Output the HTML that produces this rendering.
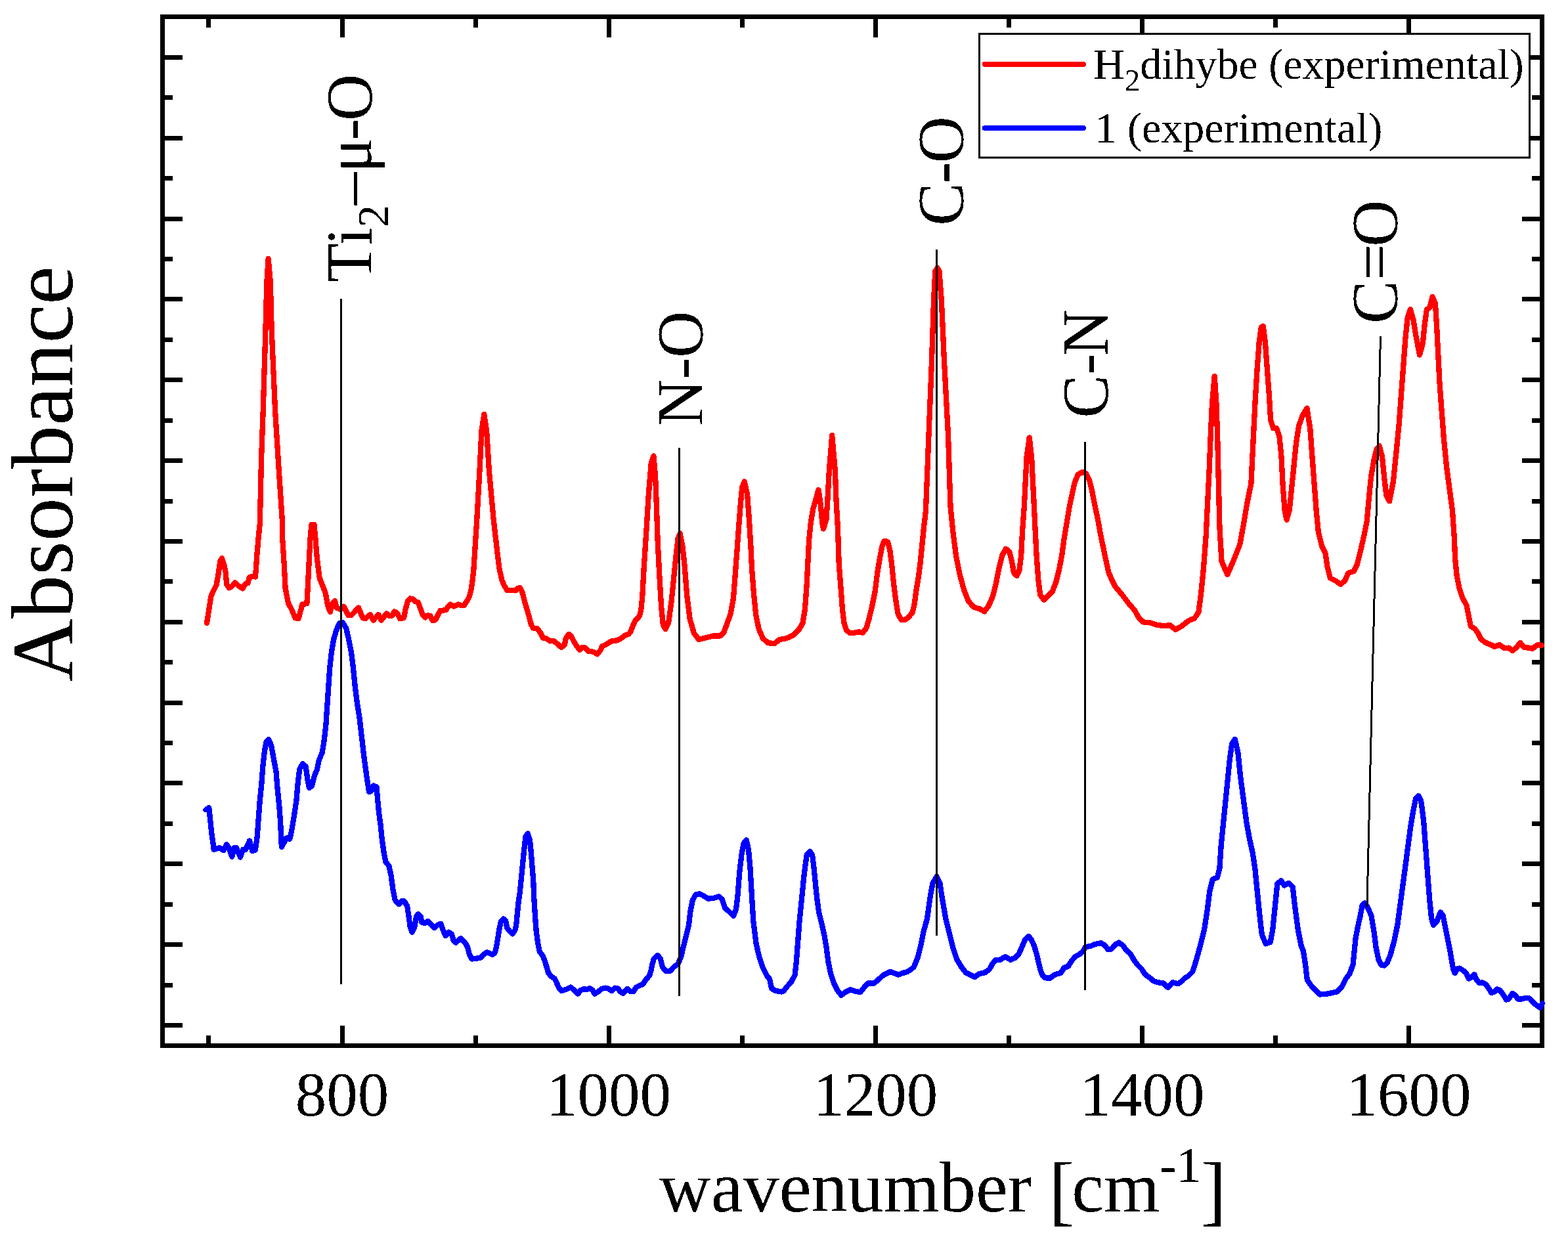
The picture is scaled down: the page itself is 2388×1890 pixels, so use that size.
<!DOCTYPE html>
<html><head><meta charset="utf-8"><title>IR spectra</title>
<style>html,body{margin:0;padding:0;background:#fff;}svg{display:block;}</style>
</head><body>
<svg width="2388" height="1890" viewBox="0 0 2388 1890">
<rect x="0" y="0" width="2388" height="1890" fill="#fff"/>
<defs><filter id="bin" x="0" y="0" width="1" height="1" color-interpolation-filters="sRGB"><feComponentTransfer><feFuncA type="discrete" tableValues="0 1"/></feComponentTransfer></filter></defs>
<path d="M317.9,1592.5 V1576.5 M317.9,25.5 V41.5 M521,1592.5 V1561.5 M521,25.5 V56.5 M724.1,1592.5 V1576.5 M724.1,25.5 V41.5 M927.1,1592.5 V1561.5 M927.1,25.5 V56.5 M1130.2,1592.5 V1576.5 M1130.2,25.5 V41.5 M1333.2,1592.5 V1561.5 M1333.2,25.5 V56.5 M1536.3,1592.5 V1576.5 M1536.3,25.5 V41.5 M1739.4,1592.5 V1561.5 M1739.4,25.5 V56.5 M1942.4,1592.5 V1576.5 M1942.4,25.5 V41.5 M2145.5,1592.5 V1561.5 M2145.5,25.5 V56.5 M247.5,87.5 H278 M2348.5,87.5 H2318 M247.5,148.9 H263 M2348.5,148.9 H2333 M247.5,210.3 H278 M2348.5,210.3 H2318 M247.5,271.7 H263 M2348.5,271.7 H2333 M247.5,333.1 H278 M2348.5,333.1 H2318 M247.5,394.5 H263 M2348.5,394.5 H2333 M247.5,455.9 H278 M2348.5,455.9 H2318 M247.5,517.4 H263 M2348.5,517.4 H2333 M247.5,578.8 H278 M2348.5,578.8 H2318 M247.5,640.2 H263 M2348.5,640.2 H2333 M247.5,701.6 H278 M2348.5,701.6 H2318 M247.5,763 H263 M2348.5,763 H2333 M247.5,824.4 H278 M2348.5,824.4 H2318 M247.5,885.8 H263 M2348.5,885.8 H2333 M247.5,947.3 H278 M2348.5,947.3 H2318 M247.5,1008.7 H263 M2348.5,1008.7 H2333 M247.5,1070.1 H278 M2348.5,1070.1 H2318 M247.5,1131.5 H263 M2348.5,1131.5 H2333 M247.5,1192.9 H278 M2348.5,1192.9 H2318 M247.5,1254.3 H263 M2348.5,1254.3 H2333 M247.5,1315.8 H278 M2348.5,1315.8 H2318 M247.5,1377.2 H263 M2348.5,1377.2 H2333 M247.5,1438.6 H278 M2348.5,1438.6 H2318 M247.5,1500 H263 M2348.5,1500 H2333 M247.5,1561.4 H278 M2348.5,1561.4 H2318" stroke="#000" stroke-width="7" fill="none" shape-rendering="crispEdges"/>
<rect x="247.5" y="25.5" width="2101.0" height="1567.0" fill="none" stroke="#000" stroke-width="7"/>
<path d="M315,949 L319.3,921.7 L321.2,908.8 L324.5,901 L329.6,890.8 L332.8,872.7 L335.4,854.7 L338,850.2 L341.2,859.8 L343.8,872.7 L345.1,889.5 L348.9,895.3 L352.8,893.3 L358,887.5 L363.1,892 L369.5,896.5 L373.4,889.5 L377.3,888.2 L379.8,879.2 L385,877.9 L388.9,878.5 L390.1,863.7 L391.4,844.4 L394,814.8 L395.8,797.7 L398,700 L400.7,625.7 L404.4,502.9 L406.4,429 L408.6,394 L411.8,429 L413.7,502.9 L419.1,625.7 L425,720 L430.2,797.7 L430.1,818.6 L432.6,857.3 L434.6,895.9 L439.1,919.1 L444.2,928.1 L449.4,941 L454.5,942.3 L458.4,928.1 L460.3,920.4 L467.4,919.1 L468.7,895.9 L470.6,857.3 L472.6,818.6 L474.5,798.7 L478.4,798.7 L480.3,818.6 L482.9,850.8 L486.7,880.5 L491.9,893.3 L495.8,903.6 L499,921.7 L502.8,932 L506,919.1 L509.9,915.2 L512.5,925.5 L518.9,928.1 L523.4,923.6 L530.5,937.1 L535.7,936.5 L546,925.5 L552.4,941 L556,942.2 L563.9,936.1 L568.7,944.6 L576.5,936.1 L580.7,944.6 L588.6,934.3 L592.8,938 L597.6,937.3 L600.6,931.3 L605.4,934.3 L609,942.2 L615.1,941 L617.5,928.3 L621.1,915.1 L624.7,911.4 L629.5,912.7 L633.1,916.3 L636.7,917.5 L640.4,927.1 L644,936.7 L647.6,940.4 L651.2,937.3 L655.4,938 L659,945.2 L663.3,944 L666.9,936.7 L670.5,930.1 L675.3,929.5 L679.5,928.9 L682.5,923.5 L686.1,920.5 L691,923.5 L698.2,920.5 L703,922.3 L706.6,922.3 L711.4,915.1 L715.1,907.8 L717.5,898.2 L719.3,886.1 L721.3,868.9 L726.2,792.7 L730.5,716.6 L733.5,655.7 L737.3,631 L741.1,655.7 L744.9,716.6 L751.8,792.7 L758.4,850 L760.8,868.1 L764.5,883.7 L768.1,892.2 L772.3,898.8 L776.5,898.8 L781.3,898.8 L784.9,899.4 L788.6,895.8 L792.2,895.2 L795.8,903 L799.4,917.5 L803,929.6 L806,939.6 L809,951.5 L812,956.5 L817.9,957 L822.9,963.4 L826.9,971.4 L831.9,972.4 L837.8,976.4 L842.8,975.9 L848.8,980.4 L854.8,985.8 L859.7,982.4 L861.7,972.4 L866.2,965.9 L869.7,968.4 L873.7,976.4 L878.6,984.3 L882.6,989.8 L886.6,986.3 L890.6,986.3 L896.6,992.3 L901.5,992.3 L905.5,993.8 L909.5,996.3 L914.5,990.3 L917,984.3 L921.5,982.4 L926.4,979.4 L931.4,976.4 L937.4,975.9 L943.4,973.9 L948.3,970.4 L952.3,967.4 L957.3,965.9 L960.3,962.4 L963.3,954.5 L967.2,945.5 L971.2,941.5 L974.2,937 L976.2,929.6 L978.2,910 L980.9,861.4 L984.5,807 L987.2,761.6 L990,725.4 L991.8,705 L995.4,694.5 L998.1,725.4 L999.9,770.7 L1001.7,825.1 L1004.5,879.5 L1007.2,924.9 L1009.9,952 L1013.5,958 L1018.1,948.5 L1022.6,915.8 L1026.2,879.5 L1029.9,843.3 L1032.6,820 L1035.7,812.4 L1039.8,834.2 L1042.6,861.4 L1046.2,906.8 L1050.7,943 L1057.1,964.8 L1064.3,973.9 L1075.2,971.2 L1086.1,968.4 L1097,968.4 L1102.4,963 L1109.7,943 L1112.6,935 L1117,910.7 L1119.7,875.6 L1122.3,840.5 L1124.9,805.4 L1127.6,770.3 L1130.2,742 L1133.7,733.4 L1138.1,752.7 L1140.7,787.8 L1143.4,831.7 L1145.1,866.8 L1147.8,902 L1151.3,937.1 L1155.7,958.2 L1161.8,972.2 L1169.7,979.2 L1179.4,980.1 L1187.3,974 L1197.8,972.2 L1208.4,967 L1217.1,958.2 L1222.4,949.4 L1225.9,928.3 L1228.5,893.2 L1230.3,858.1 L1232.1,822.9 L1234.7,796.6 L1238.2,775.5 L1242.6,760 L1246.5,746 L1249.6,766.7 L1252.3,796.6 L1254,805.4 L1258.4,791.3 L1260.5,759.4 L1262.8,717.2 L1267.2,663 L1271.9,717.2 L1273.4,759.4 L1276,805.4 L1277.7,858.1 L1280.4,893.2 L1283,928.3 L1285.6,949.4 L1289.1,959.9 L1294,963.7 L1301.1,963.7 L1308.1,962.3 L1313.7,963.7 L1319.3,956.7 L1323.5,942.6 L1328.5,921.5 L1332.7,900.5 L1336.2,872.4 L1339.7,851.3 L1343.2,833 L1346,824.6 L1349.1,823.9 L1352.3,826 L1355.2,837.3 L1358,858.3 L1360.8,886.4 L1364.3,914.5 L1367.8,935.6 L1372.7,944 L1378.3,944 L1383.9,939.8 L1389.6,932.8 L1392.4,921.5 L1395.2,900.5 L1398.7,879.4 L1401.5,858.3 L1404.3,830.2 L1407.1,802.1 L1409.9,778.6 L1414.4,664.3 L1419,550 L1422,458.6 L1424.3,412.9 L1427.5,408 L1430.4,412.9 L1433.9,458.6 L1438,550 L1444.1,664.3 L1447.5,771.1 L1451.2,808.6 L1455.9,846 L1461.5,874.1 L1468.1,898.5 L1474.7,915.3 L1483.1,924.7 L1492.4,927.5 L1499,931.3 L1505.6,922.8 L1512.1,907.8 L1516.8,889.1 L1521.5,864.8 L1526.2,846 L1531.8,835.7 L1537.4,840.4 L1541.1,855.4 L1544,872.3 L1548.6,876.9 L1552.4,868.5 L1555.2,846 L1557.1,808.6 L1559.9,771.1 L1561.7,733.6 L1563.6,696.2 L1567.7,666.5 L1571.1,696.2 L1573,733.6 L1574.9,771.1 L1576.7,808.6 L1578.6,846 L1581.4,883.5 L1584.2,906 L1589.8,913.5 L1597.3,906 L1602.5,901.5 L1608.2,886.7 L1613.1,867 L1617.2,845.7 L1620.5,821.1 L1624.6,796.6 L1628.7,772 L1632.8,752.3 L1636.9,734.3 L1641.8,722.8 L1648.4,718.7 L1654.1,721.1 L1659,731 L1663.1,747.4 L1667.2,768.7 L1672.1,791.6 L1676.2,814.6 L1680.3,834.3 L1684.4,853.9 L1688.5,872 L1693.4,883.4 L1698.4,893.3 L1708.2,904.8 L1718,917.9 L1727.9,929.3 L1734.4,940.8 L1741,947.4 L1750.8,948.2 L1760.7,951.5 L1772.1,953.1 L1782,952.3 L1790.2,958.9 L1799.2,953.9 L1810.1,945.4 L1819,941.7 L1825.3,932.8 L1829,905.1 L1832.8,867.4 L1836.6,817 L1839.1,766.6 L1841.6,716.3 L1843.6,665.9 L1845.9,615.5 L1849.7,573 L1852.5,615.5 L1854.2,665.9 L1856,741.5 L1857.5,804.4 L1860.5,854.8 L1869.3,875 L1878.1,854.8 L1888.2,829.6 L1894.1,797.7 L1899.2,767 L1905.4,736.3 L1908.4,674.8 L1911.5,613.4 L1914.6,562.2 L1917.7,521.2 L1920.7,498.7 L1923.8,496.6 L1926.9,521.2 L1929.9,562.2 L1933,603.1 L1935.1,640 L1939.2,652.3 L1944.3,652.3 L1948.4,664.6 L1951.5,695.3 L1953.5,736.3 L1956.6,777.2 L1959.6,791.6 L1963.7,777.2 L1968.9,726 L1974,674.8 L1978.1,648.2 L1984.2,631.8 L1990.4,621.6 L1995.3,652.7 L1998.4,694.9 L2001.6,737 L2004.8,779.2 L2007.9,810.8 L2013.2,831.9 L2018.5,842.5 L2021.6,863.5 L2025.8,880.4 L2034.3,884.6 L2041.7,889.9 L2048,884.6 L2053.3,873 L2061.7,869.9 L2067,859.3 L2072.2,838.2 L2077.5,815 L2081.7,794 L2084.9,758.1 L2088,726.5 L2092.3,701.2 L2096.5,684.3 L2100.7,679.1 L2104.9,694.9 L2108.1,726.5 L2111.2,753.9 L2116.1,763.4 L2121.9,733.4 L2126.3,690.1 L2130.6,646.7 L2133.8,603.4 L2137.1,560 L2140.3,516.7 L2143.6,484.2 L2147.9,471.2 L2152.3,486.4 L2156.6,512.4 L2162,540.5 L2166.8,523.2 L2169.6,495 L2172.9,471.2 L2177.2,469 L2181.5,451.7 L2185.9,462.5 L2188,495 L2190.2,538.4 L2192.4,581.7 L2195.6,625.1 L2198.9,668.4 L2203.2,711.8 L2207.5,744.3 L2211.9,776.8 L2214.8,818.6 L2216.1,850.8 L2218.7,876.6 L2222.5,895.9 L2227.7,911.3 L2233.5,921.6 L2237.3,940.9 L2239.9,953.8 L2246.3,957.7 L2251.5,965.4 L2255.4,973.1 L2261.8,978.3 L2269.5,981.5 L2276,984.7 L2283.7,982.1 L2291.4,987.3 L2297.9,986.6 L2303.6,991.1 L2309.4,986 L2315.2,978.9 L2321,986 L2328.7,986.6 L2333.9,987.9 L2341.6,982.1 L2348,982.8" fill="none" stroke="#f00" stroke-width="8.3" stroke-linejoin="round" stroke-linecap="round" shape-rendering="crispEdges"/>
<path d="M313.5,1233.3 L318.2,1230 L320.2,1248.1 L322.2,1268.4 L324.2,1281.8 L325.6,1293.9 L329.6,1292.6 L334.3,1291.2 L340.4,1295.3 L345.1,1285.9 L348.5,1291.2 L353.2,1304.7 L356.6,1291.2 L359.9,1291.2 L366,1305.4 L370,1293.9 L374.1,1293.9 L380.1,1280.5 L384.2,1296 L388.9,1294.6 L391.6,1275.1 L393.6,1248.1 L395.6,1221.2 L398.3,1194.3 L400.3,1167.3 L403,1143.1 L405.7,1129.6 L409.1,1126.3 L413.1,1135 L416.5,1153.9 L420.5,1175.4 L422.6,1201 L425.3,1227.9 L427.3,1254.9 L428.3,1281.8 L429,1290 L433.3,1281.8 L436,1276.4 L441.4,1277.8 L444.8,1261.6 L448.1,1241.4 L451.5,1218.5 L453.5,1194.3 L456.2,1171.4 L460.9,1163.3 L465.7,1167.3 L468.4,1187.5 L471,1199.7 L475.1,1197 L479.1,1180.8 L482.9,1172 L485.8,1157.8 L490.6,1146.3 L493.5,1128.9 L496.4,1103.8 L498.3,1074.8 L500.3,1045.9 L502.2,1016.9 L505.1,991.8 L508,974.4 L511.9,960.9 L516.7,949.3 L522.1,948.3 L527.3,957 L531.2,974.4 L535,993.7 L537.9,1016.9 L540.8,1045.9 L543.7,1069 L547.6,1094.1 L550.5,1119.2 L554.3,1152 L558.2,1181 L562.1,1206.1 L565.9,1204.2 L568.8,1196.5 L573.6,1198.4 L575.2,1218.6 L577.1,1238 L579.7,1257.3 L581.6,1276.6 L584.2,1295.9 L587.4,1312.7 L592.5,1319.1 L595.8,1334.6 L598.3,1353.9 L601.6,1370.7 L607.4,1377.1 L612.5,1372 L615.6,1372.4 L620.2,1379.9 L622.5,1395.6 L624.8,1412.3 L627.6,1419.7 L631.3,1412.3 L634.1,1395.6 L636.9,1391.9 L640.6,1395.6 L642.4,1404.9 L647.1,1405.8 L651.7,1403 L656.3,1407.7 L661.9,1413.2 L666.5,1408.6 L671.2,1406.7 L674.9,1416.9 L678.6,1425.3 L683.2,1419.7 L687.8,1422.5 L690.6,1431.8 L694.3,1435.5 L701.8,1429 L708.2,1435.5 L711.9,1441.9 L714.7,1453.1 L718.4,1460.5 L725.8,1459.6 L732.3,1458.6 L736,1454 L741.6,1450.3 L746.2,1452.1 L749.9,1454 L753.6,1451.2 L756,1441.9 L758.3,1428 L760.6,1414.1 L762.9,1403 L766.6,1399.3 L770.3,1403 L772.2,1413.2 L776.8,1418.8 L780.5,1422.5 L784.2,1416.9 L786.1,1409.5 L787.9,1391 L789.8,1372.4 L791.6,1360.4 L794.2,1334.6 L796.7,1308.8 L798.7,1289.5 L800.6,1274 L803.8,1269.5 L807,1280 L809,1300 L810.5,1320 L812.2,1340 L813.3,1367.8 L815,1395.6 L816.7,1417.9 L818.9,1434.5 L821.7,1449 L826.7,1455.7 L830,1464.6 L832.8,1473.5 L835,1481.3 L838.9,1486.8 L844.5,1490.2 L847.8,1496.8 L851.2,1504.6 L855.6,1509.1 L862.3,1506.8 L869,1503.5 L874.5,1508 L880.1,1513.5 L884.5,1508 L889,1506.3 L894.5,1506.8 L898.4,1505.2 L902.3,1508 L905.7,1513.5 L911.2,1510.2 L916.8,1505.7 L922.4,1504.6 L926.8,1505.7 L931.3,1509.1 L936.8,1504.6 L941.3,1505.7 L944.6,1510.2 L949.1,1513 L955.7,1505.7 L960.2,1510.2 L964.6,1510.2 L969.1,1503.5 L974.6,1500.7 L979.1,1499.1 L983.5,1492.4 L989.1,1485.7 L991.3,1479 L993.6,1467.9 L995.8,1460.1 L1001.5,1454.8 L1005.6,1459.7 L1008.9,1472.8 L1014.6,1479.3 L1021.1,1478.5 L1026.1,1472.8 L1032.6,1467.9 L1037.5,1456.4 L1040.8,1441.6 L1044.9,1425.2 L1049,1408.9 L1051.5,1387.5 L1054.8,1371.1 L1059.7,1362.1 L1065.4,1361.3 L1072,1364.6 L1078.5,1368.7 L1086.7,1367.9 L1094.9,1365.4 L1099.8,1369.5 L1103.9,1382.6 L1110.5,1388.4 L1117,1394.9 L1121.1,1384.3 L1123.6,1363 L1126.1,1330.2 L1129.3,1302.3 L1132.6,1284.3 L1136.7,1279.3 L1140,1294.1 L1142.5,1322 L1144.9,1363 L1147.4,1403.9 L1151.5,1436.7 L1156.4,1458 L1162.1,1474.4 L1167.9,1485.9 L1172,1490.8 L1175.2,1505.6 L1181,1508.9 L1190,1510.5 L1193,1509.6 L1199.1,1502 L1205.2,1495.1 L1210.5,1485.2 L1212.8,1465.4 L1215.1,1435 L1217.4,1404.6 L1219.7,1381.7 L1222,1358.9 L1224.2,1336.1 L1226.5,1317.8 L1228.8,1301.1 L1233.4,1296.5 L1237.2,1302.6 L1239.5,1320.9 L1241.7,1343.7 L1244,1366.5 L1247.1,1389.4 L1251.6,1407.6 L1255.4,1424.4 L1258.5,1442.6 L1261.5,1465.4 L1265.3,1483.7 L1269.9,1497.4 L1275.2,1508.1 L1281.3,1515.7 L1287.4,1511.1 L1295,1507.3 L1302.6,1509.6 L1310.2,1511.1 L1316.3,1503.5 L1322.4,1497.4 L1331.5,1497.4 L1338.4,1491.3 L1345.2,1485.2 L1355.9,1479.9 L1362,1482.2 L1368.1,1484.5 L1374.1,1482.2 L1381.8,1479.9 L1387.8,1476.1 L1391.9,1472.4 L1397.8,1457.9 L1402.7,1438.4 L1406.5,1418.9 L1411.9,1399.5 L1416.9,1364.4 L1420.5,1345 L1426.5,1335 L1431.5,1345 L1434.3,1364.4 L1440.4,1399.5 L1446.4,1423.8 L1451.3,1443.3 L1457.1,1460.8 L1464,1472.4 L1470.8,1481.2 L1476.6,1484.1 L1484.4,1488 L1491.2,1483.2 L1500,1481.2 L1506.8,1476.3 L1511.6,1467.6 L1516.5,1461.7 L1523.3,1461.7 L1531.1,1456.9 L1538.9,1461.7 L1545.7,1458.8 L1551.5,1453 L1556.4,1442.3 L1561.3,1430.6 L1566.6,1425.7 L1571,1431.6 L1574.9,1440.3 L1578.8,1453 L1581.7,1465.6 L1584.6,1477.3 L1587.5,1485.1 L1591.4,1489 L1594.1,1489.6 L1599.2,1489.6 L1605.3,1485 L1610.4,1483 L1615.5,1481.9 L1620.6,1473.8 L1626.7,1471.8 L1631.8,1463.6 L1637.9,1456.5 L1644,1453.4 L1649.1,1449.3 L1653.2,1442.2 L1661.4,1440.7 L1667.5,1438.1 L1676.7,1436.1 L1681.8,1439.1 L1687.9,1446.3 L1693,1445.2 L1699.1,1438.1 L1704.2,1435.6 L1710.3,1440.1 L1715.4,1447.3 L1721.5,1452.4 L1726.6,1461.6 L1732.7,1469.7 L1738.8,1475.8 L1743.9,1484 L1751.1,1489.1 L1757.2,1494.2 L1763.3,1496.2 L1771.5,1497.2 L1778.6,1503.9 L1785.7,1496.2 L1793.9,1498.3 L1800,1494.2 L1804,1490 L1809.4,1486.6 L1816.4,1479.6 L1822.3,1460.8 L1828.1,1439.7 L1834,1416.3 L1838.7,1385.8 L1842.2,1357.7 L1846.9,1339 L1853.9,1336.6 L1857.4,1322.6 L1859.7,1287.4 L1862.1,1264 L1865.6,1228.9 L1869.1,1193.7 L1872.6,1158.6 L1876.1,1132.8 L1880.8,1125.8 L1885.5,1146.9 L1889,1182 L1893.7,1217.2 L1898.4,1252.3 L1903.1,1278.1 L1907.8,1299.2 L1911.3,1322.6 L1914.8,1357.7 L1918.3,1392.9 L1921.8,1423.3 L1927.7,1437.4 L1934.7,1435 L1938.2,1416.3 L1941.8,1381.2 L1945.3,1346 L1951.1,1341.3 L1955.8,1348.4 L1962.8,1344.8 L1968.7,1350.7 L1972.2,1381.2 L1976.9,1416.3 L1981.6,1440 L1985,1448.8 L1988,1468.7 L1990.9,1492.6 L1997.9,1502.5 L2003.9,1508.5 L2009.9,1514.5 L2021.8,1513.5 L2035.7,1510.5 L2043.7,1502.5 L2049.7,1490.6 L2055.7,1482.6 L2060.6,1468.7 L2062.6,1448.8 L2064.6,1428.9 L2067.6,1412.9 L2071.6,1395 L2074.6,1379.1 L2078.5,1375.1 L2083.5,1383.1 L2088.5,1395 L2092.5,1418.9 L2095.5,1442.8 L2099.5,1461.5 L2103.5,1469.5 L2108,1470.5 L2112.4,1466.7 L2117.4,1454.7 L2123.3,1432.8 L2128.3,1408.9 L2132.3,1379.1 L2136.3,1349.2 L2140.3,1319.4 L2144.2,1289.5 L2148.2,1259.6 L2152.2,1235.7 L2156.2,1215.8 L2160.2,1211.9 L2164.2,1219.8 L2168.1,1249.7 L2171.1,1289.5 L2174.1,1329.3 L2177.1,1369.1 L2180.1,1399 L2183.1,1408.9 L2188,1404 L2193.7,1389.4 L2197.5,1394.1 L2200.3,1408.1 L2203.1,1422.2 L2205.9,1436.2 L2208.7,1450.3 L2211.1,1464.3 L2213.4,1476.5 L2215.8,1482.1 L2219,1475.5 L2222.8,1474.6 L2227.5,1477.4 L2233.1,1482.1 L2236.8,1490.5 L2240.6,1488.7 L2245.3,1484 L2249,1492.4 L2252.8,1497.1 L2257.4,1496.2 L2263.1,1499 L2266.8,1504.6 L2271.5,1512.1 L2276.2,1510.2 L2279.9,1506.5 L2284.6,1508.3 L2289.3,1514.9 L2294,1522.4 L2297.7,1521.5 L2303.3,1513 L2308,1515.8 L2311.8,1521.5 L2317.4,1521.5 L2323,1520 L2329.6,1520.5 L2334.3,1526.1 L2339.9,1530.8 L2345.5,1534.6 L2349,1528" fill="none" stroke="#00f" stroke-width="8.3" stroke-linejoin="round" stroke-linecap="round" shape-rendering="crispEdges"/>
<path d="M519.4,455 V1498.8 M1034.5,682 V1516.8 M1426.5,380 V1425 M1652.5,672.8 V1508 M2102.5,511.7 L2081.9,1380.7" stroke="#000" stroke-width="3" fill="none" shape-rendering="crispEdges"/>
<g font-family="'Liberation Serif', serif" fill="#000" filter="url(#bin)">
<text x="521" y="1698.5" font-size="95" text-anchor="middle">800</text>
<text x="927.1" y="1698.5" font-size="95" text-anchor="middle">1000</text>
<text x="1333.2" y="1698.5" font-size="95" text-anchor="middle">1200</text>
<text x="1739.4" y="1698.5" font-size="95" text-anchor="middle">1400</text>
<text x="2145.5" y="1698.5" font-size="95" text-anchor="middle">1600</text>
<text transform="translate(110,1037.8) rotate(-90)" font-size="132.5">Absorbance</text>
<text x="1003.4" y="1844.8" font-size="110">wavenumber <tspan font-size="118" dx="-2" dy="7">[</tspan><tspan dx="-4" dy="-7">cm</tspan><tspan font-size="77" dx="-1" dy="-44.4">-1</tspan><tspan font-size="118" dx="-1" dy="51.4">]</tspan></text>
<text transform="translate(565.3,430.3) rotate(-90)" font-size="98.5">Ti<tspan font-size="68.5" dy="26">2</tspan><tspan dy="-26">–μ</tspan><tspan dx="-4">-</tspan><tspan dx="-3">O</tspan></text>
<text transform="translate(1068.9,648.8) rotate(-90)" font-size="98.5">N-O</text>
<text transform="translate(1465.8,343.7) rotate(-90)" font-size="98.5">C<tspan dx="-1.5">-</tspan><tspan dx="-1.5">O</tspan></text>
<text transform="translate(1686.2,636.6) rotate(-90)" font-size="98.5">C-<tspan dx="-4">N</tspan></text>
<text transform="translate(2126.8,492.9) rotate(-90)" font-size="98.5">C=<tspan dx="-4">O</tspan></text>
</g>
<rect x="1491.5" y="51.5" width="838" height="188.5" fill="#fff" stroke="#000" stroke-width="3"/>
<path d="M1499.8,97.85 H1649.8" stroke="#f00" stroke-width="8" stroke-linecap="round" shape-rendering="crispEdges"/>
<path d="M1499.8,195 H1649.8" stroke="#00f" stroke-width="8" stroke-linecap="round" shape-rendering="crispEdges"/>
<g font-family="'Liberation Serif', serif" fill="#000" font-size="66" filter="url(#bin)">
<text x="1665" y="120">H<tspan font-size="47" dy="18">2</tspan><tspan dy="-18">dihybe (experimental)</tspan></text>
<text x="1667.6" y="216.8">1 (experimental)</text>
</g>
</svg>
</body></html>
